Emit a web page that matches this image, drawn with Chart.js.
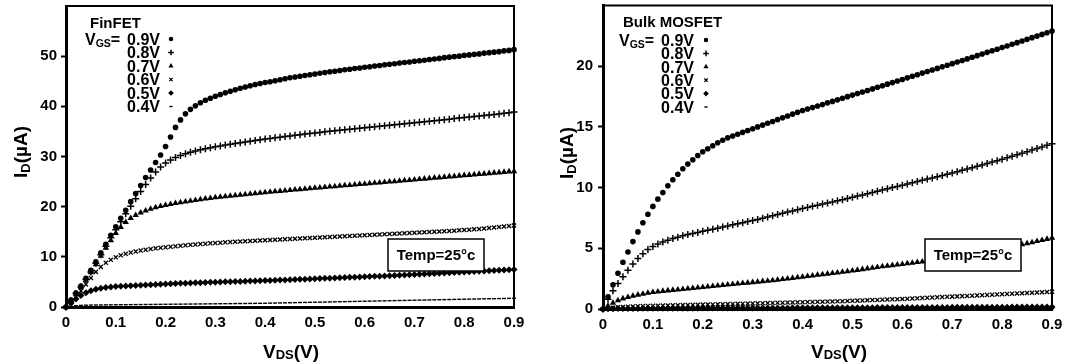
<!DOCTYPE html>
<html><head><meta charset="utf-8">
<script src="https://cdn.jsdelivr.net/npm/chart.js@4.4.1/dist/chart.umd.min.js"></script>
<style>
html,body{margin:0;padding:0;background:#fff;width:1067px;height:362px;overflow:hidden}
#c1{position:absolute;left:0;top:0;width:533px;height:362px}
#c2{position:absolute;left:533px;top:0;width:534px;height:362px}
</style></head><body>
<canvas id="c1" width="533" height="362"></canvas>
<canvas id="c2" width="534" height="362"></canvas>
<script>
// ---------- data ----------
const VDS = [0,0.01,0.02,0.03,0.04,0.05,0.06,0.07,0.08,0.09,
0.1,0.11,0.12,0.13,0.14,0.15,0.16,0.17,0.18,0.19,
0.2,0.21,0.22,0.23,0.24,0.25,0.26,0.27,0.28,0.29,
0.3,0.31,0.32,0.33,0.34,0.35,0.36,0.37,0.38,0.39,
0.4,0.41,0.42,0.43,0.44,0.45,0.46,0.47,0.48,0.49,
0.5,0.51,0.52,0.53,0.54,0.55,0.56,0.57,0.58,0.59,
0.6,0.61,0.62,0.63,0.64,0.65,0.66,0.67,0.68,0.69,
0.7,0.71,0.72,0.73,0.74,0.75,0.76,0.77,0.78,0.79,
0.8,0.81,0.82,0.83,0.84,0.85,0.86,0.87,0.88,0.89,
0.9];

const VGS_LABELS = ['0.9V','0.8V','0.7V','0.6V','0.5V','0.4V'];
const X_TICK_VALUES = [0,0.1,0.2,0.3,0.4,0.5,0.6,0.7,0.8,0.9];
const X_TICK_LABELS = ['0','0.1','0.2','0.3','0.4','0.5','0.6','0.7','0.8','0.9'];
const FIN_Y_TICKS = [0,10,20,30,40,50];
const BULK_Y_TICKS = [0,5,10,15,20];

// FinFET, I_D in uA
const FIN_09 = [0,1.4,2.8,4.2,5.7,7.3,9.0,10.8,12.5,14.3,
16.0,17.7,19.3,21.0,22.6,24.2,25.8,27.3,28.8,30.3,
32.0,33.9,35.8,37.3,38.5,39.4,40.1,40.7,41.2,41.6,
42.0,42.35,42.7,43.0,43.3,43.6,43.85,44.1,44.35,44.55,
44.75,44.9,45.1,45.3,45.5,45.7,45.85,46.0,46.15,46.3,
46.45,46.6,46.75,46.9,47.0,47.15,47.3,47.4,47.55,47.65,
47.8,47.9,48.05,48.15,48.3,48.4,48.5,48.65,48.75,48.85,
49.0,49.1,49.2,49.35,49.45,49.55,49.7,49.8,49.9,50.0,
50.15,50.25,50.35,50.45,50.6,50.7,50.8,50.9,51.05,51.15,
51.3];
const FIN_08 = [0,1.3,2.7,4.0,5.5,7.0,8.7,10.4,12.1,13.8,
15.4,17.0,18.6,20.1,21.6,23.0,24.4,25.7,26.9,27.9,
28.7,29.3,29.8,30.2,30.55,30.85,31.1,31.35,31.55,31.75,
31.95,32.1,32.3,32.45,32.6,32.75,32.9,33.05,33.2,33.35,
33.5,33.6,33.75,33.85,34.0,34.1,34.25,34.35,34.5,34.6,
34.7,34.8,34.95,35.05,35.15,35.25,35.35,35.45,35.55,35.65,
35.75,35.85,35.95,36.05,36.15,36.25,36.35,36.45,36.55,36.65,
36.75,36.85,36.95,37.05,37.15,37.25,37.35,37.45,37.55,37.65,
37.75,37.85,37.95,38.05,38.15,38.25,38.35,38.45,38.6,38.7,
38.85];
const FIN_07 = [0,1.2,2.5,3.9,5.3,6.9,8.5,10.2,11.8,13.3,
14.7,15.9,16.9,17.7,18.3,18.8,19.2,19.55,19.85,20.1,
20.3,20.5,20.7,20.85,21.0,21.15,21.3,21.45,21.6,21.7,
21.85,21.95,22.05,22.15,22.25,22.35,22.45,22.55,22.65,22.75,
22.85,22.95,23.05,23.1,23.2,23.3,23.4,23.45,23.55,23.65,
23.75,23.8,23.9,24.0,24.05,24.15,24.25,24.3,24.4,24.5,
24.55,24.65,24.75,24.8,24.9,25.0,25.05,25.15,25.25,25.3,
25.4,25.5,25.55,25.65,25.75,25.8,25.9,26.0,26.05,26.15,
26.25,26.3,26.4,26.5,26.55,26.65,26.75,26.8,26.9,27.0,
27.05];
const FIN_06 = [0,0.9,2.0,3.2,4.5,5.8,7.0,8.0,8.8,9.4,
9.9,10.3,10.6,10.85,11.05,11.25,11.4,11.55,11.7,11.8,
11.9,12.0,12.1,12.2,12.3,12.4,12.45,12.55,12.6,12.7,
12.75,12.8,12.9,12.95,13.0,13.05,13.1,13.15,13.2,13.25,
13.3,13.35,13.4,13.45,13.5,13.55,13.6,13.65,13.7,13.75,
13.8,13.85,13.9,13.95,14.0,14.05,14.1,14.15,14.2,14.25,
14.3,14.35,14.4,14.45,14.5,14.55,14.6,14.65,14.7,14.75,
14.8,14.85,14.9,14.95,15.0,15.05,15.1,15.15,15.2,15.3,
15.35,15.4,15.5,15.55,15.65,15.75,15.85,15.95,16.05,16.15,
16.25];
const FIN_05 = [0,0.8,1.6,2.3,2.85,3.25,3.55,3.75,3.9,4.0,
4.1,4.15,4.2,4.25,4.3,4.35,4.4,4.45,4.5,4.55,
4.6,4.65,4.7,4.72,4.75,4.8,4.82,4.85,4.9,4.92,
4.95,5.0,5.02,5.05,5.08,5.1,5.15,5.18,5.2,5.25,
5.28,5.3,5.35,5.38,5.4,5.45,5.5,5.52,5.55,5.6,
5.65,5.68,5.72,5.75,5.8,5.85,5.88,5.92,5.95,6.0,
6.05,6.1,6.12,6.15,6.2,6.25,6.3,6.35,6.4,6.45,
6.5,6.55,6.6,6.65,6.7,6.75,6.8,6.85,6.9,6.95,
7.0,7.05,7.1,7.15,7.2,7.25,7.3,7.35,7.4,7.45,
7.5];
const FIN_04 = [0,0.15,0.25,0.32,0.36,0.38,0.4,0.41,0.42,0.43,
0.44,0.45,0.46,0.47,0.48,0.49,0.5,0.51,0.52,0.53,
0.54,0.55,0.56,0.57,0.58,0.59,0.6,0.61,0.62,0.63,
0.64,0.65,0.66,0.67,0.68,0.69,0.7,0.71,0.72,0.73,
0.75,0.77,0.79,0.81,0.83,0.85,0.87,0.89,0.91,0.93,
0.95,0.97,0.99,1.01,1.03,1.05,1.07,1.09,1.11,1.13,
1.15,1.17,1.19,1.21,1.23,1.25,1.27,1.29,1.31,1.33,
1.35,1.37,1.39,1.41,1.43,1.45,1.47,1.49,1.51,1.53,
1.55,1.57,1.59,1.61,1.63,1.65,1.66,1.68,1.7,1.72,
1.74];

// Bulk MOSFET, I_D in uA
const BLK_09 = [0,1.0,2.0,2.95,3.85,4.7,5.55,6.35,7.1,7.8,
8.45,9.05,9.6,10.15,10.65,11.1,11.55,11.95,12.3,12.65,
12.95,13.2,13.45,13.7,13.9,14.1,14.25,14.4,14.55,14.7,
14.85,15.0,15.15,15.3,15.45,15.6,15.75,15.9,16.05,16.2,
16.35,16.47,16.6,16.72,16.85,16.98,17.1,17.23,17.36,17.49,
17.62,17.75,17.88,18.0,18.13,18.26,18.39,18.52,18.65,18.78,
18.91,19.04,19.17,19.3,19.43,19.56,19.69,19.82,19.95,20.08,
20.21,20.34,20.47,20.6,20.74,20.87,21.0,21.14,21.27,21.4,
21.54,21.67,21.81,21.94,22.08,22.21,22.35,22.48,22.62,22.75,
22.9];
const BLK_08 = [0,0.8,1.5,2.1,2.65,3.2,3.7,4.15,4.55,4.9,
5.15,5.35,5.52,5.67,5.8,5.92,6.03,6.13,6.22,6.31,
6.4,6.48,6.57,6.66,6.75,6.84,6.93,7.02,7.11,7.2,
7.29,7.38,7.48,7.58,7.68,7.78,7.88,7.98,8.08,8.18,
8.28,8.37,8.46,8.55,8.64,8.73,8.82,8.91,9.0,9.1,
9.2,9.3,9.4,9.5,9.6,9.7,9.8,9.9,10.0,10.1,
10.2,10.3,10.4,10.5,10.6,10.7,10.8,10.9,11.0,11.1,
11.2,11.31,11.42,11.53,11.64,11.75,11.86,11.98,12.1,12.22,
12.34,12.46,12.58,12.7,12.83,12.96,13.09,13.22,13.35,13.48,
13.62];
const BLK_07 = [0,0.25,0.5,0.7,0.86,0.98,1.08,1.17,1.25,1.32,
1.38,1.43,1.48,1.52,1.56,1.6,1.64,1.68,1.72,1.76,
1.8,1.84,1.88,1.92,1.96,2.0,2.04,2.08,2.12,2.16,
2.2,2.24,2.28,2.32,2.36,2.4,2.45,2.5,2.55,2.6,
2.65,2.7,2.75,2.8,2.85,2.9,2.95,3.0,3.05,3.1,
3.15,3.21,3.27,3.33,3.39,3.45,3.5,3.55,3.6,3.65,
3.7,3.75,3.8,3.85,3.9,3.95,4.01,4.07,4.13,4.19,
4.25,4.32,4.39,4.46,4.53,4.6,4.68,4.76,4.84,4.92,
5.0,5.08,5.16,5.24,5.32,5.4,5.49,5.58,5.67,5.76,
5.85];
const BLK_06 = [0,0.05,0.1,0.14,0.17,0.19,0.21,0.23,0.24,0.25,
0.26,0.27,0.28,0.29,0.3,0.31,0.32,0.33,0.34,0.35,
0.36,0.37,0.38,0.39,0.4,0.41,0.42,0.43,0.44,0.45,
0.46,0.47,0.48,0.49,0.5,0.51,0.52,0.53,0.54,0.55,
0.56,0.57,0.58,0.59,0.6,0.61,0.62,0.63,0.645,0.66,
0.675,0.69,0.705,0.72,0.735,0.75,0.765,0.78,0.795,0.81,
0.825,0.84,0.86,0.88,0.9,0.92,0.94,0.96,0.98,1.0,
1.02,1.04,1.06,1.08,1.1,1.12,1.14,1.16,1.18,1.2,
1.22,1.24,1.26,1.28,1.3,1.32,1.34,1.36,1.38,1.4,
1.42];
const BLK_05 = [0,0.02,0.03,0.035,0.04,0.045,0.05,0.05,0.055,0.055,
0.06,0.06,0.06,0.065,0.065,0.065,0.07,0.07,0.07,0.07,
0.075,0.075,0.075,0.075,0.08,0.08,0.08,0.08,0.08,0.085,
0.085,0.085,0.085,0.09,0.09,0.09,0.09,0.09,0.095,0.095,
0.095,0.095,0.1,0.1,0.1,0.1,0.1,0.105,0.105,0.105,
0.105,0.11,0.11,0.11,0.11,0.115,0.115,0.115,0.115,0.12,
0.12,0.12,0.12,0.125,0.125,0.125,0.13,0.13,0.13,0.13,
0.135,0.135,0.135,0.14,0.14,0.14,0.145,0.145,0.145,0.15,
0.15,0.15,0.155,0.155,0.155,0.16,0.16,0.16,0.165,0.165,
0.17];
const BLK_04 = [0,0.005,0.008,0.01,0.011,0.012,0.013,0.013,0.014,0.014,
0.015,0.015,0.015,0.016,0.016,0.016,0.017,0.017,0.017,0.017,
0.018,0.018,0.018,0.018,0.019,0.019,0.019,0.019,0.02,0.02,
0.02,0.02,0.02,0.021,0.021,0.021,0.021,0.022,0.022,0.022,
0.022,0.023,0.023,0.023,0.023,0.024,0.024,0.024,0.024,0.025,
0.025,0.025,0.025,0.026,0.026,0.026,0.026,0.027,0.027,0.027,
0.027,0.028,0.028,0.028,0.028,0.029,0.029,0.029,0.029,0.03,
0.03,0.03,0.03,0.031,0.031,0.031,0.031,0.032,0.032,0.032,
0.032,0.033,0.033,0.033,0.033,0.034,0.034,0.034,0.034,0.035,
0.035];

// ---------- styles ----------
const FONT = '"Liberation Sans", Arial, Helvetica, sans-serif';
const MARKERS = [
  {pointStyle:'circle',   radius:2.8, borderWidth:0},
  {pointStyle:'cross',    radius:3.5, borderWidth:1.5},
  {pointStyle:'triangle', radius:3.7, borderWidth:0},
  {pointStyle:'crossRot', radius:2.9, borderWidth:1.3},
  {pointStyle:'rectRot',  radius:3.5, borderWidth:0},
  {pointStyle:'line',     radius:2.0, borderWidth:1.4}
];

function rich(ctx, parts, x, y, align) {
  let w = 0;
  parts.forEach(p => { ctx.font = 'bold ' + p.s + 'px ' + FONT; p.w = ctx.measureText(p.t).width; w += p.w; });
  let cx = align === 'center' ? x - w / 2 : (align === 'right' ? x - w : x);
  ctx.textAlign = 'left'; ctx.textBaseline = 'alphabetic';
  parts.forEach(p => { ctx.font = 'bold ' + p.s + 'px ' + FONT; ctx.fillText(p.t, cx, y + (p.dy || 0)); cx += p.w; });
}

function marker(ctx, m, x, y, k) {
  ctx.fillStyle = '#000'; ctx.strokeStyle = '#000'; ctx.lineWidth = m.borderWidth;
  Chart.helpers.drawPoint(ctx, {pointStyle: m.pointStyle, radius: m.radius * k, borderWidth: m.borderWidth, rotation: 0}, x, y);
}

const deco = {
  id: 'deco',
  beforeDatasetsDraw(chart) {
    const ctx = chart.ctx, a = chart.chartArea;
    ctx.save();
    ctx.strokeStyle = '#000'; ctx.lineWidth = 2;
    ctx.beginPath();
    ctx.moveTo(a.left, a.top); ctx.lineTo(a.right, a.top); ctx.lineTo(a.right, a.bottom + 1);
    ctx.stroke();
    ctx.restore();
  },
  afterDraw(chart, args, o) {
    const ctx = chart.ctx;
    ctx.save();
    ctx.fillStyle = '#000';
    // y axis title
    ctx.save();
    ctx.translate(o.yTitleX, o.yTitleY); ctx.rotate(-Math.PI / 2);
    rich(ctx, [{t:'I', s:19}, {t:'D', s:13, dy:3}, {t:'(\u00b5A)', s:19}], 0, 7, 'center');
    ctx.restore();
    // x axis title
    rich(ctx, [{t:'V', s:19}, {t:'DS', s:13, dy:1}, {t:'(V)', s:19}], o.xTitleX, o.xTitleY, 'center');
    // legend
    ctx.font = 'bold 15px ' + FONT; ctx.textAlign = 'left'; ctx.textBaseline = 'alphabetic';
    ctx.fillText(o.name, o.nameX, o.nameY);
    rich(ctx, [{t:'V', s:16}, {t:'GS', s:10.5, dy:2}, {t:'=', s:16}], o.vgsX, o.rowY + 5.8, 'left');
    VGS_LABELS.forEach((lab, i) => {
      const cy = o.rowY + i * o.rowStep;
      ctx.font = 'bold 16px ' + FONT; ctx.textAlign = 'right'; ctx.fillStyle = '#000';
      ctx.fillText(lab, o.valRight, cy + 5.8);
      marker(ctx, MARKERS[i], o.markX, cy, 0.8);
    });
    // temperature box
    ctx.lineWidth = 1.5; ctx.strokeStyle = '#000'; ctx.fillStyle = '#fff';
    ctx.fillRect(o.box[0], o.box[1], o.box[2], o.box[3]);
    ctx.strokeRect(o.box[0], o.box[1], o.box[2], o.box[3]);
    ctx.fillStyle = '#000'; ctx.font = 'bold 15px ' + FONT; ctx.textAlign = 'center'; ctx.textBaseline = 'middle';
    ctx.fillText('Temp=25\u00b0c', o.box[0] + o.box[2] / 2, o.box[1] + o.box[3] / 2 + 1);
    ctx.restore();
  }
};

function makeChart(id, series, yMax, yTicks, cfg) {
  const datasets = series.map((arr, i) => ({
    label: 'VGS=' + VGS_LABELS[i],
    data: VDS.map((x, j) => ({x: x, y: arr[j]})),
    showLine: false,
    pointStyle: MARKERS[i].pointStyle,
    pointRadius: MARKERS[i].radius,
    pointBorderWidth: MARKERS[i].borderWidth,
    pointBackgroundColor: '#000',
    pointBorderColor: '#000',
    clip: false
  }));
  return new Chart(document.getElementById(id), {
    type: 'scatter',
    data: {datasets: datasets},
    plugins: [deco],
    options: {
      responsive: false,
      animation: false,
      events: [],
      layout: {padding: {left: 0, right: cfg.padRight, top: cfg.padTop, bottom: 0}},
      plugins: {legend: {display: false}, tooltip: {enabled: false}, deco: cfg.deco},
      scales: {
        x: {
          type: 'linear', min: 0, max: 0.9,
          afterBuildTicks: s => { s.ticks = X_TICK_VALUES.map(v => ({value: v})); },
          afterFit: s => { s.height = cfg.xHeight; s.paddingLeft = 0; s.paddingRight = 0; },
          grid: {display: false, drawOnChartArea: false, drawTicks: false},
          border: {display: true, color: '#000', width: 3},
          ticks: {color: '#000', font: {family: FONT, size: 15, weight: 'bold'}, padding: 7, maxRotation: 0,
                  callback: (v, i) => X_TICK_LABELS[i]}
        },
        y: {
          type: 'linear', min: 0, max: yMax,
          afterBuildTicks: s => { s.ticks = yTicks.map(v => ({value: v})); },
          afterFit: s => { s.width = cfg.yWidth; s.paddingTop = 0; s.paddingBottom = 0; },
          grid: {display: true, drawOnChartArea: false, drawTicks: true, tickLength: 5, tickColor: '#000', tickWidth: 2},
          border: {display: true, color: '#000', width: 3},
          ticks: {color: '#000', font: {family: FONT, size: 15, weight: 'bold'}, padding: cfg.yPad}
        }
      }
    }
  });
}

makeChart('c1', [FIN_09, FIN_08, FIN_07, FIN_06, FIN_05, FIN_04], 60, FIN_Y_TICKS, {
  padRight: 19, padTop: 6, xHeight: 55, yWidth: 66, yPad: 4,
  deco: {yTitleX: 20, yTitleY: 152, xTitleX: 291, xTitleY: 358,
         name: 'FinFET', nameX: 90, nameY: 28, vgsX: 85, valRight: 160, markX: 171,
         rowY: 39, rowStep: 13.5, box: [388, 239, 96, 32]}
});
makeChart('c2', [BLK_09, BLK_08, BLK_07, BLK_06, BLK_05, BLK_04], 25, BULK_Y_TICKS, {
  padRight: 15, padTop: 5, xHeight: 53, yWidth: 70, yPad: 5,
  deco: {yTitleX: 33, yTitleY: 153, xTitleX: 306, xTitleY: 358,
         name: 'Bulk MOSFET', nameX: 90, nameY: 26.5, vgsX: 86, valRight: 161, markX: 173,
         rowY: 40, rowStep: 13.4, box: [392, 239, 96, 32]}
});
</script></body></html>
